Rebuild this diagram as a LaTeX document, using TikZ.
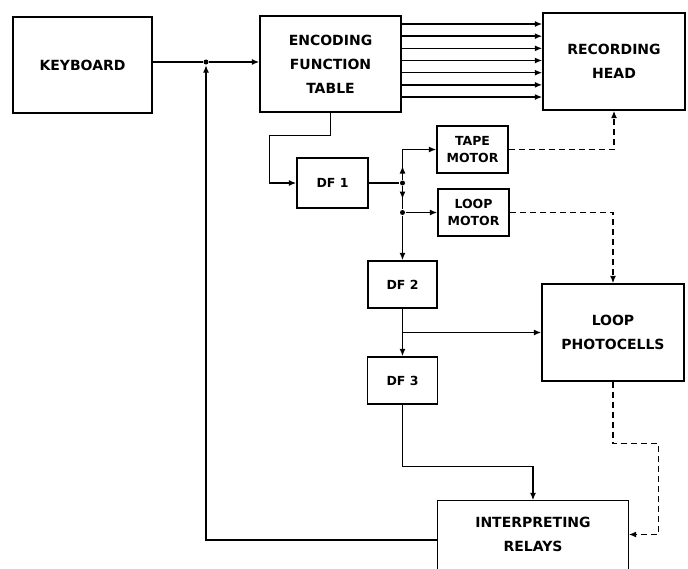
\documentclass[tikz,border=0pt]{standalone}
\usepackage{fontspec}
\newfontfamily\lettering{DejaVu Sans}
\usetikzlibrary{arrows.meta,calc}

\tikzset{
    bigbox/.style={draw, line width=1.4pt, inner sep=0pt, align=center,
        font=\lettering\bfseries\fontsize{14}{24}\selectfont},
    smallbox/.style={draw, line width=1.4pt, inner sep=0pt, align=center,
        font=\lettering\bfseries\fontsize{12.5}{17}\selectfont},
    tip/.style={-{Latex[length=7.5pt,width=6pt]}},
    dsh/.style={dash pattern=on 6pt off 4pt},
    joint/.style={circle, fill, inner sep=0pt, minimum size=5pt}
}

\begin{document}
\begin{tikzpicture}[x=1pt, y=-1pt, line width=1.4pt]

    \useasboundingbox (0,0) rectangle (688,568);

    % Blok utama
    \node[bigbox, minimum width=139pt, minimum height=96pt] (kb) at (82.5,65) {KEYBOARD};
    \node[bigbox, minimum width=141pt, minimum height=96pt] (et) at (330.5,64) {ENCODING\\FUNCTION\\TABLE};
    \node[bigbox, minimum width=142pt, minimum height=97pt] (rh) at (614,61.5) {RECORDING\\HEAD};
    \node[bigbox, minimum width=142pt, minimum height=97pt] (lp) at (613,332.5) {LOOP\\PHOTOCELLS};
    \node[bigbox, draw=none, minimum width=190pt, minimum height=67pt] (ir) at (533,534.5) {INTERPRETING\\RELAYS};
    \draw (ir.south west) -- (ir.north west) -- (ir.north east) -- (ir.south east);

    % Blok kecil
    \node[smallbox, minimum width=71pt, minimum height=50pt] (df1) at (332.5,183) {DF 1};
    \node[smallbox, minimum width=71pt, minimum height=47pt] (tm) at (472.5,149.5) {TAPE\\MOTOR};
    \node[smallbox, minimum width=71pt, minimum height=47pt] (lm) at (473.5,212.5) {LOOP\\MOTOR};
    \node[smallbox, minimum width=69pt, minimum height=47pt] (df2) at (402.5,284.5) {DF 2};
    \node[smallbox, minimum width=70pt, minimum height=47pt] (df3) at (402.5,380.5) {DF 3};

    % Titik cabang
    \node[joint] (kj) at (206,62) {};
    \node[joint] (j1) at (df2.north |- df1.east) {};
    \node[joint] (j2) at (df2.north |- lm.west) {};
    \coordinate (j3) at (df2.south |- lp.west);

    % Keyboard ke tabel
    \draw (kb.east |- kj) -- (kj);
    \draw[tip] (kj) -- (kj -| et.west);

    % Tujuh jalur ke recording head
    \foreach \i in {0,...,6} {
        \coordinate (ln\i) at (0,24+\i*12.17);
        \draw[tip] (et.east |- ln\i) -- (rh.west |- ln\i);
    }

    % Tabel ke DF 1 dan seterusnya
    \draw[tip] (et.south) -- ++(0,23) -| ($(df1.west)+(-27,0)$) -- (df1.west);
    \draw (df1.east) -- (j1);
    \draw[tip] (j1) -- ++(0,-17);
    \draw[tip] (j1) |- (tm.west);
    \draw[tip] (j1) -- ++(0,16);
    \draw (j1) -- (j2);
    \draw[tip] (j2) -- (lm.west);
    \draw[tip] (j2) -- (df2.north);
    \draw[tip] (df2.south) -- (df3.north);
    \draw[tip] (j3) -- (lp.west);
    \draw[tip] (df3.south) -- ++(0,62) -| (ir.north);

    % Umpan balik
    \draw[tip] (ir.west |- 0,540) -| (kj);

    % Garis putus-putus
    \draw[dsh, tip] (tm.east) -| (rh.south);
    \draw[dsh, tip] (lm.east) -| (lp.north);
    \draw[dsh, tip] (lp.south) -- ++(0,62) -| ($(ir.east)+(30,0)$) -- (ir.east);

\end{tikzpicture}
\end{document}
